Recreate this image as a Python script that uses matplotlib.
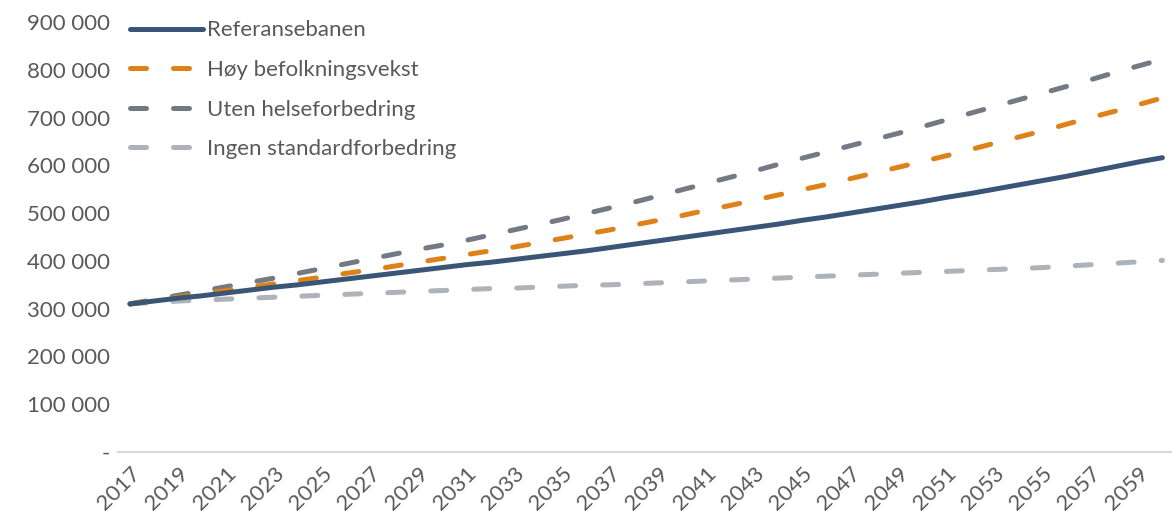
import matplotlib.pyplot as plt
import matplotlib.ticker as mticker
import numpy as np

plt.rcParams['font.family'] = ['Lato', 'DejaVu Sans']

# years 2017-2060
years = np.arange(2017, 2061)

# Referansebanen
ref = [310000, 316000, 322000, 327000, 333000, 339000, 345000, 350000, 356000, 362000,
       368000, 374000, 380000, 386000, 392000, 397000, 403000, 409000, 415000, 421000,
       428000, 435000, 442000, 449000, 456000, 463000, 470000, 477000, 485000, 492000,
       500000, 508000, 516000, 524000, 533000, 541000, 550000, 559000, 568000, 577000,
       587000, 597000, 607000, 616000]
# Høy befolkningsvekst
hoy = [310000, 317000, 324000, 331000, 338000, 345000, 352000, 359000, 366000, 374000,
       381000, 389000, 397000, 405000, 413000, 421000, 429000, 438000, 447000, 456000,
       465000, 475000, 485000, 495000, 506000, 516000, 527000, 538000, 549000, 560000,
       572000, 584000, 596000, 608000, 620000, 633000, 646000, 659000, 672000, 686000,
       700000, 713000, 727000, 741000]
# Uten helseforbedring
uten = [310000, 319000, 328000, 337000, 346000, 355000, 364000, 374000, 384000, 394000,
        404000, 414000, 424000, 433000, 443000, 454000, 465000, 476000, 487000, 499000,
        511000, 523000, 536000, 549000, 562000, 575000, 588000, 602000, 615000, 628000,
        641000, 654000, 667000, 681000, 695000, 709000, 723000, 737000, 751000, 765000,
        779000, 794000, 808000, 822000]
# Ingen standardforbedring
ingen = [310000, 313000, 316000, 318000, 320000, 322000, 324000, 326000, 328000, 330000,
         332000, 334000, 336000, 338000, 340000, 342000, 343000, 345000, 347000, 349000,
         350000, 352000, 354000, 356000, 358000, 360000, 362000, 364000, 366000, 368000,
         370000, 372000, 374000, 376000, 378000, 380000, 382000, 384000, 386000, 389000,
         392000, 395000, 398000, 401000]

fig = plt.figure(figsize=(11.72, 5.15), dpi=100)
ax = fig.add_axes([0.1007, 0.1223, 0.8993, 0.835])

dash = dict(linewidth=3.6, dashes=(3.2, 5.4), dash_capstyle='round', solid_capstyle='round')
ax.plot(years, ref, color='#3A5677', linewidth=3.6, solid_capstyle='round', label='Referansebanen', zorder=5)
ax.plot(years, hoy, color='#DE8118', label='Høy befolkningsvekst', zorder=4, **dash)
ax.plot(years, uten, color='#737A83', label='Uten helseforbedring', zorder=3, **dash)
ax.plot(years, ingen, color='#ADB3B9', label='Ingen standardforbedring', zorder=2, **dash)

ax.set_xlim(2016.5, 2060.4)
ax.set_ylim(0, 900000)
ax.set_yticks(np.arange(0, 900001, 100000))

def fmt(v, pos):
    if v == 0:
        return '-'
    return f'{int(v):,}'.replace(',', ' ')

ax.yaxis.set_major_formatter(mticker.FuncFormatter(fmt))
ax.set_xticks(years[::2])
ax.set_xticklabels([str(y) for y in years[::2]], rotation=45, ha='right', rotation_mode='anchor')

for s in ['top', 'right', 'left']:
    ax.spines[s].set_visible(False)
ax.spines['bottom'].set_color('#D9D9D9')
ax.spines['bottom'].set_linewidth(1.5)
ax.tick_params(axis='both', length=0, labelsize=16, colors='#595959')
ax.tick_params(axis='y', pad=6)
ax.tick_params(axis='x', pad=8)

leg = ax.legend(loc='upper left', bbox_to_anchor=(-0.008, 1.05), frameon=False, fontsize=16,
                handlelength=3.3, handletextpad=0.2, labelspacing=0.88)
for t in leg.get_texts():
    t.set_color('#595959')

fig.savefig('out.png', dpi=100)
